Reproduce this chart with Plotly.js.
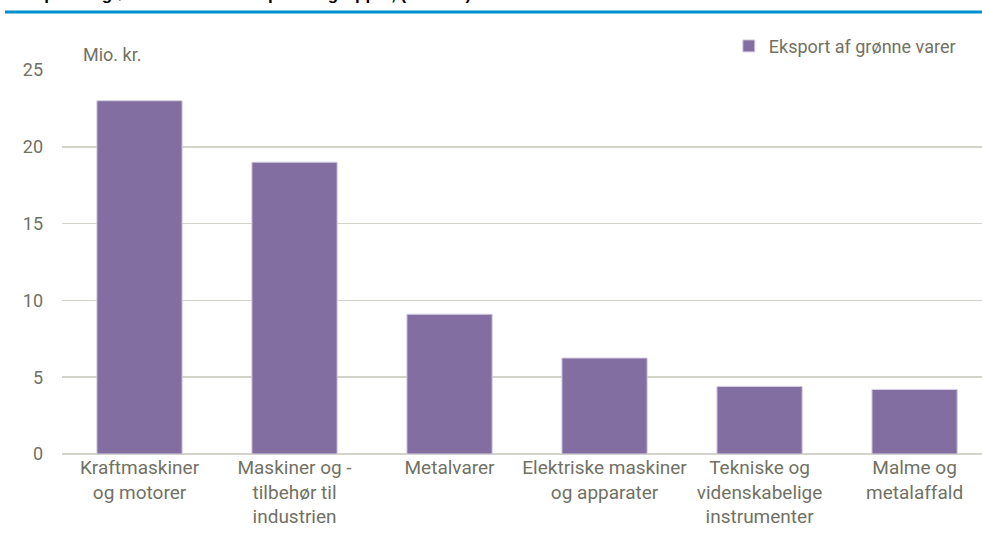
<!DOCTYPE html>
<html>
<head>
<meta charset="utf-8">
<script src="https://cdn.plot.ly/plotly-3.0.1.min.js"></script>
<style>html,body{margin:0;padding:0;background:#fff;}#chart{width:982px;height:543px;}</style>
</head>
<body>
<div id="chart"></div>
<script>
const categories = [
  "Kraftmaskiner<br>og motorer",
  "Maskiner og -<br>tilbehør til<br>industrien",
  "Metalvarer",
  "Elektriske maskiner<br>og apparater",
  "Tekniske og<br>videnskabelige<br>instrumenter",
  "Malme og<br>metalaffald"
];
const values = [23.0, 19.0, 9.1, 6.25, 4.4, 4.2];
const seriesName = "Eksport af grønne varer";
const yTicks = [0, 5, 10, 15, 20, 25];
const unitLabel = "Mio. kr.";
const chartTitle = "Eksport af grønne varer fordelt på varegrupper, (mio. kr.)";

const FONT = "Roboto, 'Liberation Sans', sans-serif";
const TXT = "#717164";

const trace = {
  type: "bar",
  x: categories,
  y: values,
  name: seriesName,
  marker: {color: "#826ea0", line: {color: "#d6cfe3", width: 1}},
  hoverinfo: "skip"
};

const layout = {
  width: 982, height: 543,
  margin: {l: 62, r: 0, t: 70, b: 89},
  paper_bgcolor: "#ffffff",
  plot_bgcolor: "#ffffff",
  font: {family: FONT, size: 19, color: TXT},
  bargap: 0.45,
  showlegend: true,
  legend: {
    orientation: "h", x: 0.977, xanchor: "right", y: 1.062, yanchor: "middle",
    font: {family: FONT, size: 18, color: TXT}, bgcolor: "rgba(0,0,0,0)",
    itemwidth: 30
  },
  xaxis: {
    type: "category",
    range: [-0.5, 5.435],
    showgrid: false, zeroline: false, showline: false,
    ticks: "", ticklabelstandoff: 0,
    tickfont: {family: FONT, size: 19, color: TXT},
    fixedrange: true
  },
  yaxis: {
    range: [0, 25],
    tickvals: yTicks,
    ticktext: yTicks.map(String),
    showgrid: true, gridcolor: "#d4d3c9", gridwidth: 1.5,
    zeroline: true, zerolinecolor: "#d4d3c9", zerolinewidth: 1.5,
    showline: false, ticks: "", ticklabelstandoff: 18,
    tickfont: {family: FONT, size: 18, color: TXT},
    fixedrange: true
  },
  annotations: [{
    text: unitLabel, xref: "paper", yref: "paper",
    x: 0.021, y: 1.04, xanchor: "left", yanchor: "middle",
    showarrow: false, font: {family: FONT, size: 18, color: TXT}
  }, {
    text: "<b>" + chartTitle + "</b>", xref: "paper", yref: "paper",
    x: -0.054, y: 1.167, xanchor: "left", yanchor: "bottom",
    showarrow: false, font: {family: "'Liberation Sans', Arial, sans-serif", size: 17, color: "#000000"}
  }],
  shapes: [{
    type: "line", xref: "paper", yref: "paper",
    x0: -0.062, x1: 1, y0: 1.151, y1: 1.151,
    line: {color: "#0090d0", width: 3}
  }]
};

Plotly.newPlot("chart", [trace], layout, {displayModeBar: false, staticPlot: true});
</script>
</body>
</html>
